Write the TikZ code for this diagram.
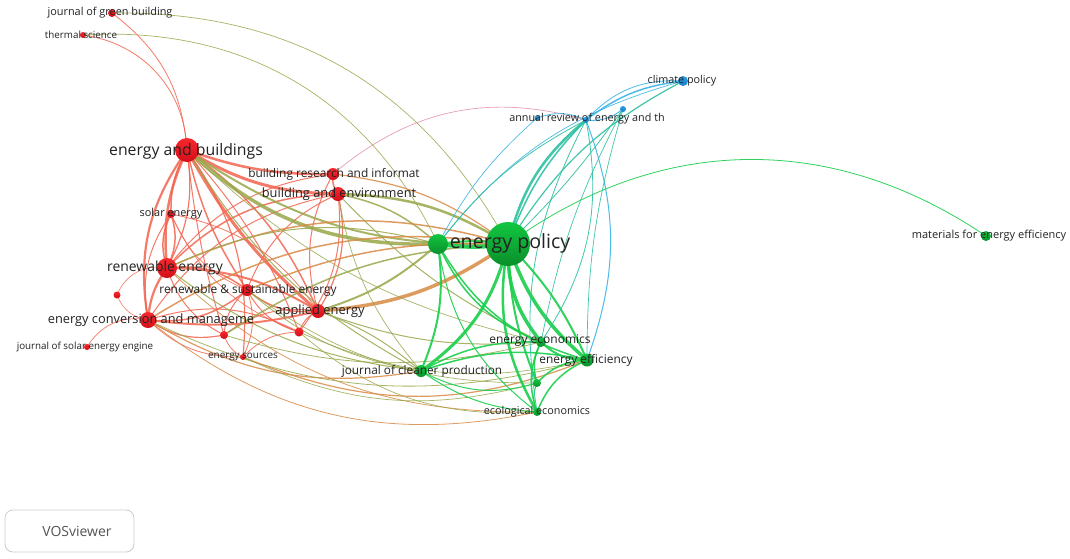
\documentclass[tikz,border=0pt]{standalone}
\usepackage{fontspec}
\setmainfont{Open Sans}
\begin{document}
\begin{tikzpicture}[x=1pt,y=-1pt,
  ed/.style={line width=#1, bend right=22},
  ed/.default=1,
  redE/.style={draw=red1, opacity=0.85},
  greenE/.style={draw=green1, opacity=0.9},
  oliveE/.style={draw=olive1, opacity=0.85},
  orangeE/.style={draw=orange1, opacity=0.85},
  blueE/.style={draw=blue1, opacity=0.9},
  tealE/.style={draw=teal1, opacity=0.9},
  pinkE/.style={draw=pink1, opacity=0.8},
  dot/.style={circle, inner sep=0pt, minimum size=#1},
  rdot/.style={dot=#1, top color=redT, bottom color=redB},
  gdot/.style={dot=#1, top color=greenN, bottom color=greenD},
  bdot/.style={dot=#1, top color=blueT, bottom color=blueN},
  lbl/.style={text=labelC, inner sep=0pt},
]
\definecolor{red1}{HTML}{F3644F}
\definecolor{green1}{HTML}{19CF4B}
\definecolor{olive1}{HTML}{98A84A}
\definecolor{orange1}{HTML}{D98A45}
\definecolor{blue1}{HTML}{3AB4E6}
\definecolor{teal1}{HTML}{2CC0A0}
\definecolor{pink1}{HTML}{E3899E}
\definecolor{redT}{HTML}{F7282E}
\definecolor{redB}{HTML}{D30E19}
\definecolor{greenN}{HTML}{12C640}
\definecolor{greenD}{HTML}{0A8F2A}
\definecolor{blueT}{HTML}{2A9DE6}
\definecolor{blueN}{HTML}{1580C8}
\definecolor{labelC}{HTML}{222222}
\definecolor{boxC}{HTML}{CCCCCC}
\definecolor{boxT}{HTML}{555555}

\useasboundingbox (0,0) rectangle (1070,558);
\fill[white] (0,0) rectangle (1070,558);

% coordinates
\coordinate (jgb) at (112,13);
\coordinate (ts) at (83,35);
\coordinate (eb) at (187,150);
\coordinate (bri) at (333,174);
\coordinate (be) at (338,194);
\coordinate (se) at (171,214);
\coordinate (ep) at (508,244);
\coordinate (g2) at (438,244);
\coordinate (re) at (167,268);
\coordinate (s1) at (117,295);
\coordinate (rse) at (247,290);
\coordinate (ecm) at (148,320);
\coordinate (ae) at (318,311);
\coordinate (s2) at (224,335);
\coordinate (s3) at (299,332);
\coordinate (jse) at (87,347);
\coordinate (es) at (243,357);
\coordinate (cp) at (683,81);
\coordinate (b2) at (623,109);
\coordinate (ar) at (586,120);
\coordinate (b3) at (537,118);
\coordinate (mee) at (986,236);
\coordinate (ee) at (541,342);
\coordinate (eff) at (587,360);
\coordinate (jcp) at (421,371);
\coordinate (g3) at (537,383);
\coordinate (eco) at (537,412);

% ---- long thin arcs (bend right = visually right of travel)
\draw[oliveE, ed=0.7, bend right=31] (ep) to (jgb);
\draw[oliveE, ed=0.7, bend right=34] (g2) to (ts);
\draw[greenE, ed=0.8, bend right=35] (mee) to (ep);
\draw[pinkE, ed=0.7, bend right=28] (ar) to (bri);

% ---- red cluster
\draw[redE, ed=0.8, bend right=24] (eb) to (jgb);
\draw[redE, ed=0.8, bend right=40] (eb) to (ts);
\draw[redE, ed=2.5, bend right=10] (eb) to (bri);
\draw[redE, ed=3, bend right=15] (eb) to (be);
\draw[redE, ed=1.5, bend right=15] (eb) to (se);
\draw[redE, ed=2.5, bend right=15] (eb) to (re);
\draw[redE, ed=1.2, bend left=18] (eb) to (re);
\draw[redE, ed=2.2, bend right=22] (eb) to (ecm);
\draw[redE, ed=1.5, bend right=10] (eb) to (rse);
\draw[redE, ed=3, bend right=10] (eb) to (ae);
\draw[redE, ed=1.5, bend left=15] (eb) to (ae);
\draw[redE, ed=1, bend right=5] (eb) to (s2);
\draw[redE, ed=1, bend left=10] (eb) to (s3);
\draw[redE, ed=1.2, bend left=20] (eb) to (es);
\draw[redE, ed=1.5] (bri) to (be);
\draw[redE, ed=1.5] (be) to (re);
\draw[redE, ed=1.2] (ae) to (be);
\draw[redE, ed=1] (be) to (rse);
\draw[redE, ed=1] (be) to (ecm);
\draw[redE, ed=1] (s3) to (be);
\draw[redE, ed=1] (bri) to (re);
\draw[redE, ed=1] (bri) to (ae);
\draw[redE, ed=1.5] (se) to (re);
\draw[redE, ed=1.5] (re) to (se);
\draw[redE, ed=1] (se) to (ecm);
\draw[redE, ed=0.8] (ae) to (se);
\draw[redE, ed=2.2, bend right=15] (re) to (ecm);
\draw[redE, ed=1.5] (rse) to (re);
\draw[redE, ed=2, bend right=15] (ae) to (re);
\draw[redE, ed=1] (re) to (s2);
\draw[redE, ed=0.6, bend right=40] (re) to (s1);
\draw[redE, ed=0.6, bend right=30] (s1) to (ecm);
\draw[redE, ed=0.7, bend right=35] (ecm) to (jse);
\draw[redE, ed=1.5] (ecm) to (rse);
\draw[redE, ed=2, bend right=10] (ecm) to (ae);
\draw[redE, ed=1.2] (ecm) to (s2);
\draw[redE, ed=0.8] (ecm) to (es);
\draw[redE, ed=1] (s3) to (ecm);
\draw[redE, ed=1.5] (rse) to (ae);
\draw[redE, ed=1] (rse) to (s2);
\draw[redE, ed=1] (rse) to (s3);
\draw[redE, ed=1] (ae) to (s3);
\draw[redE, ed=1] (ae) to (s2);
\draw[redE, ed=0.8] (s2) to (es);
\draw[redE, ed=0.8] (es) to (rse);
\draw[redE, ed=0.8] (s3) to (es);
\draw[redE, ed=0.7] (se) to (rse);
\draw[redE, ed=0.7] (se) to (s3);

% ---- red-green (olive / orange)
\draw[oliveE, ed=3.5, bend right=22] (eb) to (g2);
\draw[oliveE, ed=2, bend right=18] (eb) to (ep);
\draw[oliveE, ed=2.5, bend right=15] (ep) to (be);
\draw[oliveE, ed=1.5, bend right=15] (g2) to (be);
\draw[orangeE, ed=1.2, bend right=15] (ep) to (bri);
\draw[orangeE, ed=1.5, bend right=20] (ep) to (re);
\draw[oliveE, ed=1, bend right=20] (g2) to (re);
\draw[orangeE, ed=3.5, bend right=15] (ae) to (ep);
\draw[oliveE, ed=2, bend right=12] (ae) to (g2);
\draw[orangeE, ed=1.5, bend right=12] (ep) to (rse);
\draw[orangeE, ed=1.5, bend right=20] (ep) to (ecm);
\draw[oliveE, ed=1.5, bend right=15] (ep) to (s2);
\draw[orangeE, ed=1.2, bend right=20] (ecm) to (jcp);
\draw[oliveE, ed=1, bend right=15] (re) to (jcp);
\draw[oliveE, ed=1, bend right=10] (jcp) to (ae);
\draw[oliveE, ed=1, bend right=15] (eb) to (jcp);
\draw[orangeE, ed=0.8, bend right=25] (ecm) to (eco);
\draw[orangeE, ed=0.8, bend right=22] (re) to (eco);
\draw[oliveE, ed=0.8, bend right=20] (ecm) to (eff);
\draw[oliveE, ed=0.8, bend right=15] (s2) to (ee);
\draw[oliveE, ed=1, bend right=12] (ae) to (ee);
\draw[oliveE, ed=1, bend right=10] (be) to (ee);
\draw[oliveE, ed=0.7, bend right=22] (s3) to (eco);
\draw[orangeE, ed=1.2, bend right=22] (es) to (eff);
\draw[oliveE, ed=0.7, bend right=18] (rse) to (g3);
\draw[oliveE, ed=0.7, bend right=18] (s3) to (eff);
\draw[oliveE, ed=0.7, bend right=20] (es) to (g3);
\draw[oliveE, ed=0.8, bend right=15] (rse) to (jcp);
\draw[oliveE, ed=0.7, bend right=15] (be) to (jcp);
\draw[oliveE, ed=0.7, bend right=15] (eb) to (ee);

% ---- green cluster
\draw[greenE, ed=4, bend right=8] (g2) to (ep);
\draw[greenE, ed=2, bend right=8] (ep) to (g2);
\draw[greenE, ed=3.5, bend right=20] (ep) to (ee);
\draw[greenE, ed=3.5, bend right=15] (ep) to (eff);
\draw[greenE, ed=2, bend left=10] (ep) to (eff);
\draw[greenE, ed=2.5, bend right=20] (ep) to (eco);
\draw[greenE, ed=2, bend right=10] (ep) to (g3);
\draw[greenE, ed=3, bend right=20] (jcp) to (ep);
\draw[greenE, ed=2, bend right=15] (jcp) to (g2);
\draw[greenE, ed=1.5] (g2) to (ee);
\draw[greenE, ed=1.5] (g2) to (eff);
\draw[greenE, ed=1] (g2) to (eco);
\draw[greenE, ed=1.5, bend right=15] (ee) to (jcp);
\draw[greenE, ed=1.5, bend right=15] (eff) to (jcp);
\draw[greenE, ed=1, bend right=15] (jcp) to (eco);
\draw[greenE, ed=1] (jcp) to (g3);
\draw[greenE, ed=2] (ee) to (eff);
\draw[greenE, ed=1.5] (ee) to (g3);
\draw[greenE, ed=1.5] (ee) to (eco);
\draw[greenE, ed=1.5] (eff) to (g3);
\draw[greenE, ed=1.5] (eff) to (eco);
\draw[greenE, ed=1] (g3) to (eco);

% ---- blue / teal
\draw[tealE, ed=2.5, bend right=18] (ar) to (ep);
\draw[tealE, ed=1.5, bend right=12] (ar) to (ep);
\draw[tealE, ed=1.2, bend right=15] (cp) to (ep);
\draw[tealE, ed=0.8, bend right=5] (ep) to (b2);
\draw[blueE, ed=1.5, bend right=15] (cp) to (ar);
\draw[blueE, ed=0.8, bend right=25] (cp) to (ar);
\draw[blueE, ed=1] (ar) to (b2);
\draw[blueE, ed=0.8] (ar) to (b3);
\draw[blueE, ed=1, bend right=20] (eff) to (ar);
\draw[tealE, ed=0.8, bend right=22] (ee) to (ar);
\draw[tealE, ed=0.8, bend right=18] (ar) to (eco);
\draw[tealE, ed=0.7, bend right=8] (b2) to (ee);
\draw[tealE, ed=0.7, bend right=8] (b2) to (eff);
\draw[blueE, ed=0.7, bend right=18] (cp) to (g2);
\draw[blueE, ed=0.7, bend right=10] (b3) to (g2);
\draw[tealE, ed=0.8, bend right=12] (ar) to (g2);

% ---- nodes
\node[rdot=8] (jgb-n) at (jgb) {};
\node[rdot=6] (ts-n) at (ts) {};
\node[rdot=24] (eb-n) at (eb) {};
\node[rdot=12] (bri-n) at (bri) {};
\node[rdot=14] (be-n) at (be) {};
\node[rdot=8] (se-n) at (se) {};
\node[rdot=20] (re-n) at (re) {};
\node[rdot=7] (s1-n) at (s1) {};
\node[rdot=12] (rse-n) at (rse) {};
\node[rdot=16] (ecm-n) at (ecm) {};
\node[rdot=14] (ae-n) at (ae) {};
\node[rdot=8] (s2-n) at (s2) {};
\node[rdot=9] (s3-n) at (s3) {};
\node[rdot=6] (jse-n) at (jse) {};
\node[rdot=6] (es-n) at (es) {};
\node[gdot=20] (g2-n) at (g2) {};
\node[gdot=44] (ep-n) at (ep) {};
\node[gdot=10] (mee-n) at (mee) {};
\node[gdot=10] (ee-n) at (ee) {};
\node[gdot=13] (eff-n) at (eff) {};
\node[gdot=12] (jcp-n) at (jcp) {};
\node[gdot=8] (g3-n) at (g3) {};
\node[gdot=8] (eco-n) at (eco) {};
\node[bdot=10] (cp-n) at (cp) {};
\node[bdot=6] (b2-n) at (b2) {};
\node[bdot=6] (ar-n) at (ar) {};
\node[bdot=5] (b3-n) at (b3) {};

% ---- labels
\node[lbl, font=\fontsize{10.9}{12}\selectfont] (jgb-l) at (110,13) {journal of green building};
\node[lbl, font=\fontsize{9.8}{11}\selectfont] (ts-l) at (81,35) {thermal science};
\node[lbl, font=\fontsize{15.8}{18}\selectfont] (eb-l) at (186,151) {energy and buildings};
\node[lbl, font=\fontsize{11.9}{14}\selectfont] (bri-l) at (334,174) {building research and informat};
\node[lbl, font=\fontsize{12.8}{15}\selectfont] (be-l) at (339,194) {building and environment};
\node[lbl, font=\fontsize{10.9}{12}\selectfont] (se-l) at (171,214) {solar energy};
\node[lbl, font=\fontsize{19.6}{22}\selectfont] (ep-l) at (510,243) {energy policy};
\node[lbl, font=\fontsize{13.9}{16}\selectfont] (re-l) at (165,268) {renewable energy};
\node[lbl, font=\fontsize{11.9}{14}\selectfont] (rse-l) at (248,290) {renewable \& sustainable energy};
\node[lbl, font=\fontsize{12.8}{15}\selectfont] (ecm-l) at (151,320) {energy conversion and manageme};
\node[lbl, font=\fontsize{12.9}{15}\selectfont] (ae-l) at (320,311) {applied energy};
\node[lbl, font=\fontsize{9.8}{11}\selectfont] (jse-l) at (85,347) {journal of solar energy engine};
\node[lbl, font=\fontsize{9.9}{11}\selectfont] (es-l) at (243,357) {energy sources};
\node[lbl, font=\fontsize{10.8}{12}\selectfont] (cp-l) at (682,81) {climate policy};
\node[lbl, font=\fontsize{10.8}{12}\selectfont] (ar-l) at (587,119) {annual review of energy and th};
\node[lbl, font=\fontsize{11}{13}\selectfont] (mee-l) at (989,236) {materials for energy efficiency};
\node[lbl, font=\fontsize{12}{14}\selectfont] (ee-l) at (540,341) {energy economics};
\node[lbl, font=\fontsize{11.9}{14}\selectfont] (eff-l) at (586,360) {energy efficiency};
\node[lbl, font=\fontsize{11.8}{14}\selectfont] (jcp-l) at (422,371) {journal of cleaner production};
\node[lbl, font=\fontsize{10.8}{12}\selectfont] (eco-l) at (537,412) {ecological economics};

% ---- VOSviewer box
\node[draw=boxC, rounded corners=8pt, line width=0.8pt, minimum width=129pt, minimum height=42pt, inner sep=0pt] (vbox) at (69.5,531) {};
\node[text=boxT, font=\fontsize{14}{16}\selectfont] (vtext) at (77,531) {VOSviewer};
\end{tikzpicture}
\end{document}
